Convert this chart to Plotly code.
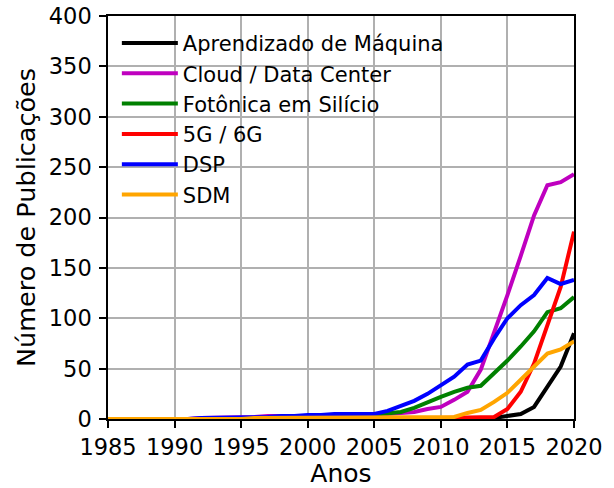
import plotly.graph_objects as go

years = list(range(1985, 2021))

ml = [0]*16 + [1, 1, 1, 1, 1, 1, 1, 1, 1, 1, 1, 1, 1, 1, 3, 5, 12, 32, 52, 85]
cloud = [0, 0, 0, 0, 0, 0, 0, 1, 1, 2, 2, 2, 3, 3, 3, 3, 3, 3, 3, 3,
         4, 5, 6, 7, 10, 12, 19, 27, 49, 85, 123, 162, 202, 232, 235, 243]
silicio = [0]*11 + [1, 1, 1, 2, 2, 2, 2, 2, 3,
                    4, 5, 7, 11, 17, 22, 27, 31, 33, 45, 58, 72, 87, 106, 110, 121]
g5g6 = [0]*25 + [1, 1, 1, 1, 2, 10, 27, 55, 92, 131, 186]
dsp = [0, 0, 0, 0, 0, 0, 0, 1, 1, 1, 2, 2, 2, 3, 3, 4, 4, 5, 5, 5,
       5, 8, 13, 18, 25, 33, 42, 54, 58, 80, 100, 113, 123, 140, 134, 138]
sdm = [0]*11 + [1]*15 + [2, 6, 9, 17, 26, 39, 52, 65, 69, 77]

names = ["Aprendizado de Máquina", "Cloud / Data Center", "Fotônica em Silício",
         "5G / 6G", "DSP", "SDM"]
series = [ml, cloud, silicio, g5g6, dsp, sdm]
colors = ["#000000", "#bf00bf", "#008000", "#ff0000", "#0000ff", "#ffa500"]

fig = go.Figure()
for n, s, c in zip(names, series, colors):
    fig.add_trace(go.Scatter(x=years, y=s, mode="lines", name=n,
                             line=dict(color=c, width=4)))

axis_common = dict(showline=True, mirror=True, linecolor="black", linewidth=1.5,
                   showgrid=True, gridcolor="#b0b0b0", gridwidth=1.5,
                   ticks="outside", ticklen=7, tickwidth=1.5, tickcolor="black",
                   zeroline=False, automargin=False, ticklabeloverflow="allow",
                   tickfont=dict(size=22.5, color="black"))

fig.update_layout(
    width=614, height=488,
    margin=dict(l=108, r=40, t=16, b=69),
    paper_bgcolor="white", plot_bgcolor="white",
    font=dict(family="DejaVu Sans", color="black"),
    xaxis=dict(range=[1985, 2020], dtick=5, tick0=1985, tickangle=0,
               title=dict(text="Anos", font=dict(size=25), standoff=11),
               **axis_common),
    yaxis=dict(range=[0, 400], dtick=50, tick0=0, ticklabelstandoff=3,
               title=dict(text="Número de Publicações", font=dict(size=25.5), standoff=6),
               **axis_common),
    legend=dict(x=0.019, y=0.983, xanchor="left", yanchor="top",
                bgcolor="rgba(0,0,0,0)", font=dict(size=21, color="black"),
                itemwidth=56, tracegroupgap=0),
    showlegend=True,
)

fig.write_html("out.html", config={"displayModeBar": False},
               post_script="document.body.style.margin='0px';")
